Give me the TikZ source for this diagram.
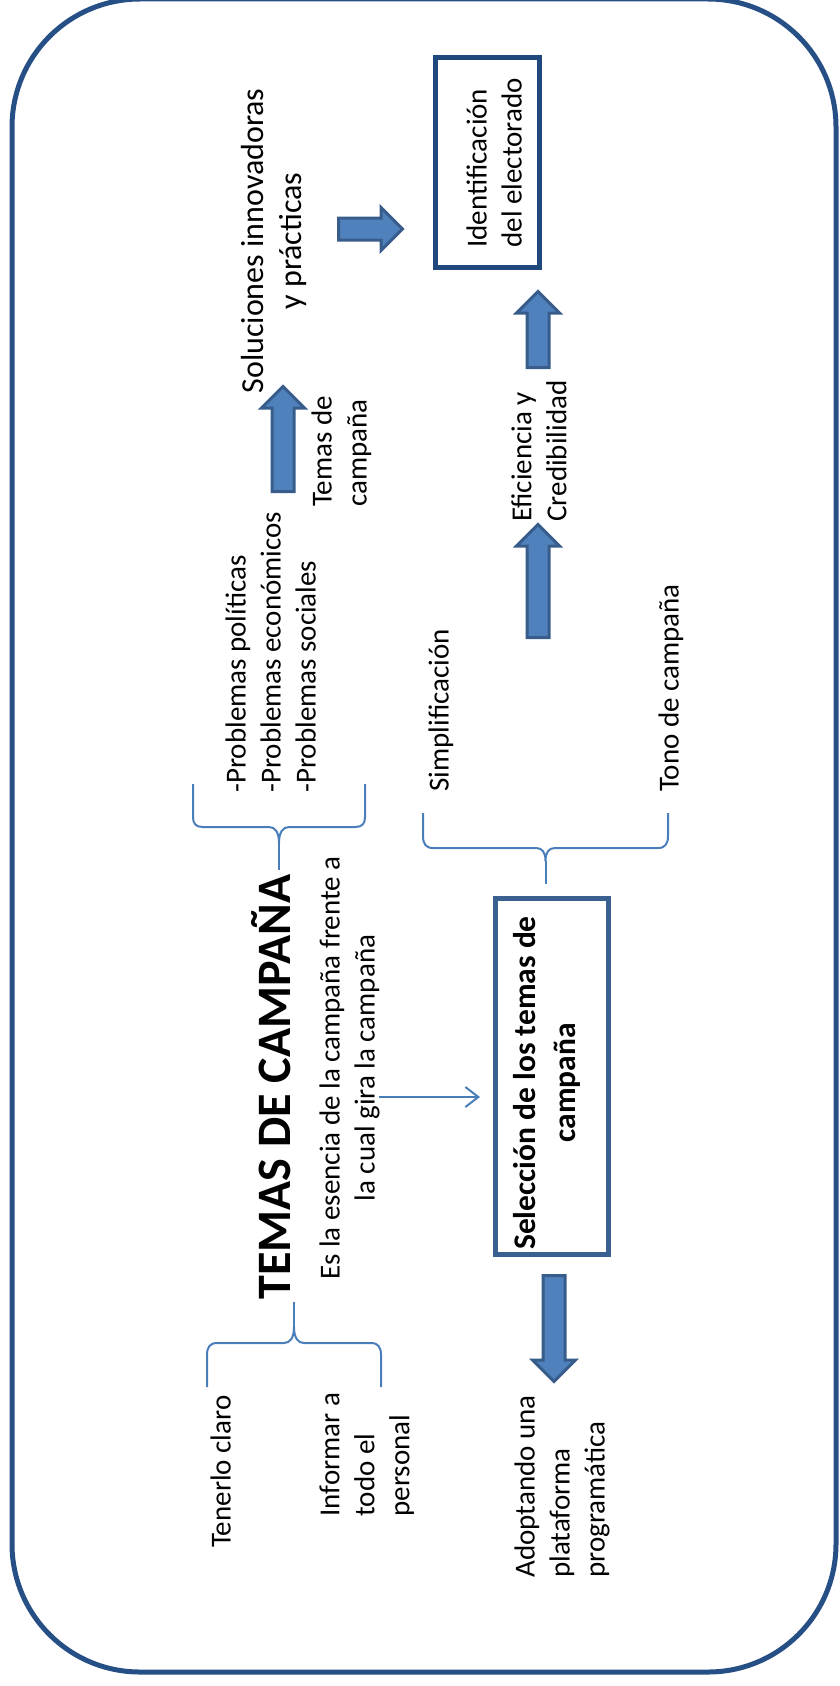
\documentclass[tikz,border=0pt]{standalone}
\usepackage{fontspec}
\setmainfont{Carlito}
\usetikzlibrary{shapes.arrows,arrows.meta}

\definecolor{frameblue}{RGB}{38,79,134}
\definecolor{identborder}{RGB}{31,73,125}
\definecolor{selborder}{RGB}{58,95,145}
\definecolor{arrowfill}{RGB}{79,129,189}
\definecolor{arrowdraw}{RGB}{56,93,138}
\definecolor{thinblue}{RGB}{74,126,187}

\tikzset{
  lbl/.style={rotate=90, inner sep=0pt, text=black,
    font=\fontsize{14.5}{17.5}\selectfont},
  biglbl/.style={lbl, font=\fontsize{16}{19}\selectfont},
  titlelbl/.style={lbl, font=\bfseries\fontsize{24}{29}\selectfont},
  boldlbl/.style={lbl, font=\bfseries\fontsize{15.75}{20}\selectfont},
  framebox/.style={draw=frameblue, line width=2.5pt, rounded corners=64pt},
  textbox/.style={rectangle, rotate=90, inner sep=0pt, line width=2.5pt},
  blockarrow/.style={single arrow, draw=arrowdraw, fill=arrowfill,
    line width=1.5pt, inner xsep=0pt, inner ysep=4.75pt,
    single arrow head extend=5.25pt, single arrow tip angle=90,
    single arrow head indent=0pt, minimum width=0pt},
  bracepath/.style={draw=thinblue, line width=1pt, line join=round},
  thinarrow/.style={draw=thinblue, line width=1pt,
    -{Straight Barb[length=6.5pt, width=10pt, line width=1pt]}},
}

\begin{document}
\begin{tikzpicture}[x=0.5pt, y=-0.5pt]
  \useasboundingbox (0,0) rectangle (840,1686);

  % outer rounded frame
  \draw[framebox] (12,-1) rectangle (836,1672);

  % upper part: themes, solutions, identification
  \node[biglbl, align=center, anchor=north] (sol) at (241,241)
    {Soluciones innovadoras\\y prácticas};
  \node[blockarrow, minimum height=32pt] (arrright) at (365,229) {};
  \node[textbox, draw=identborder, minimum width=105pt, minimum height=52pt]
    (ident) at (487.5,162.5) {};
  \node[lbl, align=left, anchor=north west] (identtxt) at (466,248)
    {Identificación\\del electorado};

  \node[blockarrow, rotate=90, minimum height=52.5pt] (arrup1) at (283,444.5) {};
  \node[lbl, align=left, anchor=north west] (temas) at (311,507)
    {Temas de\\campaña};

  \node[blockarrow, rotate=90, minimum height=38pt] (arrup2) at (538,335) {};
  \node[lbl, align=left, anchor=north west] (efi) at (511,522)
    {Eficiencia y\\Credibilidad};
  \node[blockarrow, rotate=90, minimum height=56.5pt] (arrup3) at (538,586.5) {};

  \node[lbl, align=left, anchor=north west] (prob) at (225,793)
    {-Problemas políticas\\-Problemas económicos\\-Problemas sociales};
  \node[lbl, anchor=north west] (simp) at (428,792) {Simplificación};
  \node[lbl, anchor=north west] (tono) at (658,792) {Tono de campaña};

  % braces
  \draw[bracepath] (193,784) -- (193,817) .. controls (193,824) and (196,827) .. (203,827)
    -- (269,827) .. controls (275,827) and (279,832) .. (279,843)
    .. controls (279,832) and (283,827) .. (289,827) -- (355,827)
    .. controls (362,827) and (365,824) .. (365,817) -- (365,784);
  \draw[bracepath] (279,843) -- (279,870);

  \draw[bracepath] (423,813) -- (423,836) .. controls (423,844) and (426,848) .. (433,848)
    -- (536,848) .. controls (542,848) and (545.5,852) .. (545.5,861)
    .. controls (545.5,852) and (549,848) .. (555,848) -- (658,848)
    .. controls (665,848) and (668,844) .. (668,836) -- (668,813);
  \draw[bracepath] (545.5,861) -- (545.5,884);

  \draw[bracepath] (207,1387) -- (207,1355) .. controls (207,1347) and (210,1343) .. (217,1343)
    -- (284,1343) .. controls (290,1343) and (294,1338) .. (294,1327)
    .. controls (294,1338) and (298,1343) .. (304,1343) -- (371,1343)
    .. controls (378,1343) and (381,1347) .. (381,1355) -- (381,1387);
  \draw[bracepath] (294,1327) -- (294,1302);

  % central title and definition
  \node[titlelbl, anchor=base] (title) at (290,1087) {TEMAS DE CAMPAÑA};
  \node[lbl, align=center, anchor=north] (esencia) at (319,1068)
    {Es la esencia de la campaña frente a\\la cual gira la campaña};

  \node[textbox, draw=selborder, minimum width=178pt, minimum height=56.5pt]
    (sel) at (552,1076.5) {};
  \node[boldlbl, align=center, anchor=north] (seltxt) at (513,1083)
    {Selección de los temas de\\campaña};

  \coordinate (esout) at (379,1097);
  \coordinate (selin) at (480,1097);
  \draw[thinarrow] (esout) -- (selin);

  % lower part
  \node[blockarrow, rotate=-90, minimum height=53pt] (arrdown) at (554,1323) {};
  \node[lbl, align=left, anchor=north west] (adopt) at (514,1578)
    {Adoptando una\\plataforma\\programática};
  \node[lbl, anchor=north west] (tener) at (210,1548) {Tenerlo claro};
  \node[lbl, align=left, anchor=north west] (inform) at (319,1517)
    {Informar a\\todo el\\personal};
\end{tikzpicture}
\end{document}
